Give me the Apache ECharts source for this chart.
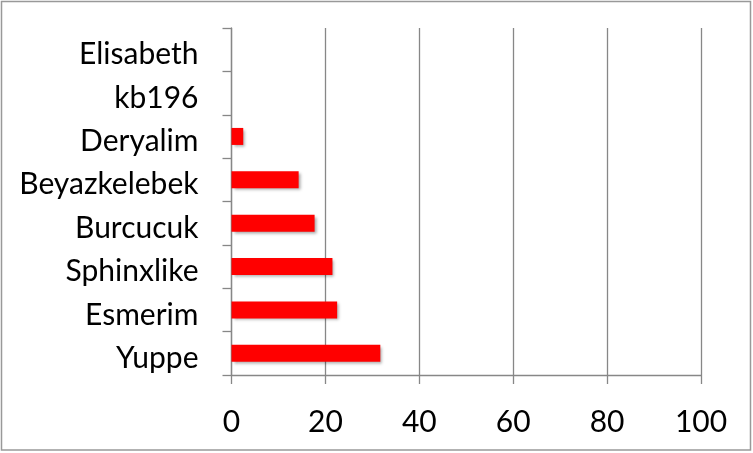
<!DOCTYPE html>
<html lang="en">

<head>
	<meta charset="UTF-8">
	<title>Chart</title>
	<script src="https://cdn.jsdelivr.net/npm/echarts@6/dist/echarts.min.js"></script>
	<style>
		html, body { margin: 0; padding: 0; background: #fff; }
	</style>
</head>

<body>
	<div id="chart" style="width: 753px;height: 453px;"></div>
</body>

<script>
	// categories bottom -> top, as in the picture
	let names = ['Yuppe', 'Esmerim', 'Sphinxlike', 'Burcucuk', 'Beyazkelebek', 'Deryalim', 'kb196', 'Elisabeth']
	let values = [31.7, 22.5, 21.5, 17.7, 14.3, 2.5, 0, 0]
	let xTicks = [0, 20, 40, 60, 80, 100]

	let mcharts = echarts.init(document.getElementById('chart'))

	let grey = '#878787'
	let font = 'Lato'

	let option = {
		animation: false,
		backgroundColor: '#fff',
		graphic: [
			{
				type: 'rect',
				shape: { x: 1.5, y: 1.5, width: 749, height: 448.5 },
				style: { fill: 'none', stroke: '#999', lineWidth: 1.5 },
				silent: true
			}
		],
		grid: {
			left: 231.5,
			right: 52,
			top: 28,
			bottom: 78
		},
		xAxis: {
			type: 'value',
			min: xTicks[0],
			max: xTicks[xTicks.length - 1],
			interval: 20,
			axisLine: { show: true, lineStyle: { color: grey, width: 1.3 } },
			axisTick: { show: true, length: 9, lineStyle: { color: grey, width: 1.3 } },
			splitLine: { show: true, lineStyle: { color: grey, width: 1.3 } },
			axisLabel: {
				margin: 32,
				color: '#000',
				fontFamily: font,
				fontSize: 30
			}
		},
		yAxis: {
			type: 'category',
			data: names,
			axisLine: { show: true, lineStyle: { color: grey, width: 1.3 } },
			axisTick: { show: true, length: 9, lineStyle: { color: grey, width: 1.3 } },
			axisLabel: {
				margin: 33,
				color: '#000',
				fontFamily: font,
				fontSize: 30,
				verticalAlign: 'top',
				lineHeight: 10
			}
		},
		series: [
			{
				type: 'bar',
				data: values,
				barWidth: 17,
				itemStyle: {
					color: '#ff0000',
					shadowColor: 'rgba(0,0,0,0.35)',
					shadowBlur: 3,
					shadowOffsetX: 2,
					shadowOffsetY: 2
				}
			}
		]
	}

	mcharts.setOption(option)
</script>

</html>
